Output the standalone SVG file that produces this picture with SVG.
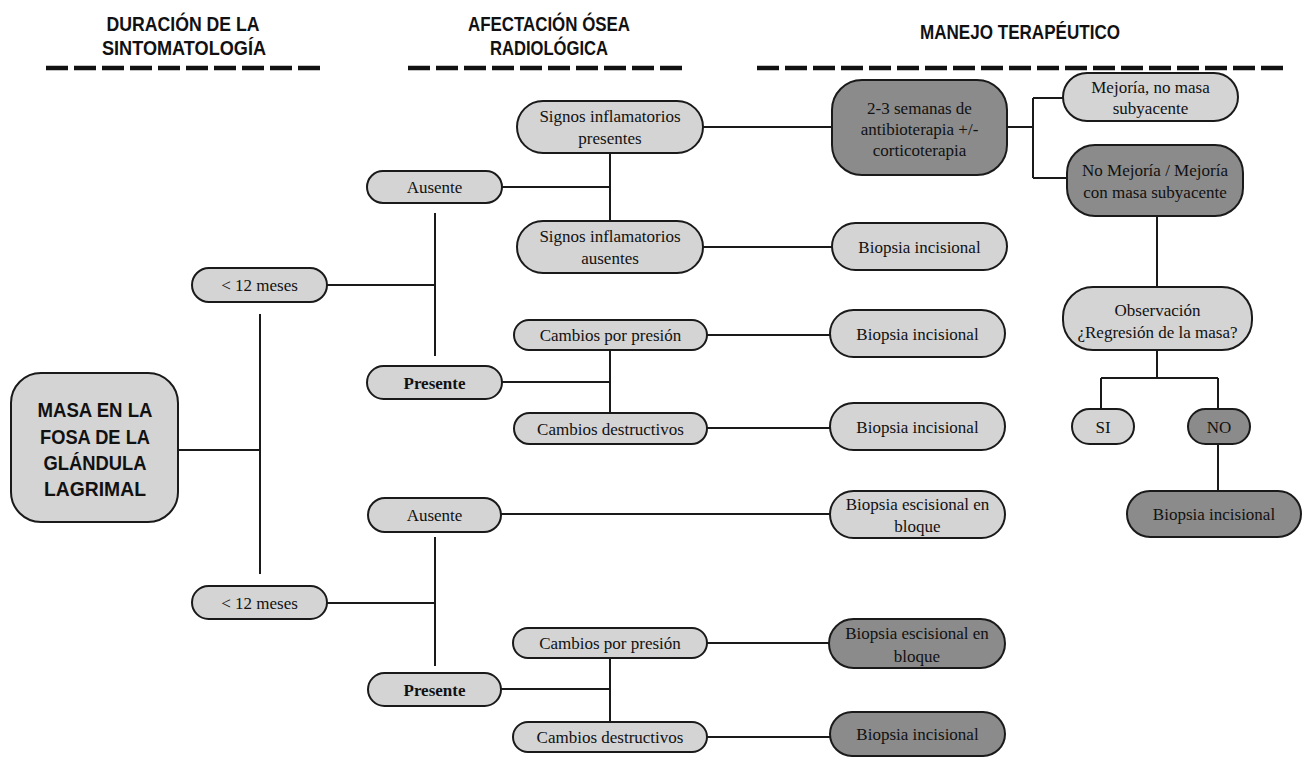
<svg xmlns="http://www.w3.org/2000/svg" width="1303" height="757" viewBox="0 0 1303 757">
<style>
.hd{font-family:"Liberation Sans",Arial,sans-serif;font-weight:bold;font-size:20px;fill:#111;text-anchor:middle}
.dash{stroke:#111;stroke-width:4.5;stroke-dasharray:22 6;fill:none}
.lt{fill:#d4d4d4;stroke:#1a1a1a;stroke-width:2}
.dk{fill:#8b8b8b;stroke:#1a1a1a;stroke-width:2}
.t{font-family:"Liberation Serif","Times New Roman",serif;font-size:17px;fill:#111;text-anchor:middle}
.b{font-weight:bold}
.rt{font-family:"Liberation Sans",Arial,sans-serif;font-weight:bold;font-size:21px;fill:#111;text-anchor:middle}
#connectors path{stroke:#1a1a1a;stroke-width:2;fill:none}
</style>
<rect width="1303" height="757" fill="#fff"/>
<g id="headers">
<text class="hd" x="183" y="31" textLength="153" lengthAdjust="spacingAndGlyphs">DURACIÓN DE LA</text>
<text class="hd" x="184" y="55" textLength="164" lengthAdjust="spacingAndGlyphs">SINTOMATOLOGÍA</text>
<text class="hd" x="549" y="31" textLength="162" lengthAdjust="spacingAndGlyphs">AFECTACIÓN ÓSEA</text>
<text class="hd" x="549" y="55" textLength="118" lengthAdjust="spacingAndGlyphs">RADIOLÓGICA</text>
<text class="hd" x="1020" y="39" textLength="200" lengthAdjust="spacingAndGlyphs">MANEJO TERAPÉUTICO</text>
<path class="dash" d="M46 68H320M408 68H682M757 68H1283"/>
</g>
<g id="connectors">
<path d="M178 450H260M260 314V574"/>
<path d="M327 285H435M435 213V356"/>
<path d="M502 187H610M610 153V221"/>
<path d="M703 127H832M703 247H832"/>
<path d="M502 382H610M610 350V413"/>
<path d="M707 335H830M707 428H830"/>
<path d="M327 603H435M435 537V666"/>
<path d="M501 514H830"/>
<path d="M501 689H610M610 658V722"/>
<path d="M707 643H830M707 737H830"/>
<path d="M1007 127H1033M1033 98V178M1033 98H1063M1033 178H1067"/>
<path d="M1157 216V287"/>
<path d="M1157 350V378M1101 378H1218M1101 378V409M1218 378V409"/>
<path d="M1218 444V491"/>
</g>
<g id="root"><rect class="lt" x="11" y="373" width="167" height="149" rx="30"/>
<text class="rt" x="95" y="417" textLength="115" lengthAdjust="spacingAndGlyphs">MASA EN LA</text><text class="rt" x="95" y="444" textLength="110" lengthAdjust="spacingAndGlyphs">FOSA DE LA</text><text class="rt" x="95" y="470" textLength="103" lengthAdjust="spacingAndGlyphs">GLÁNDULA</text><text class="rt" x="95" y="496" textLength="102" lengthAdjust="spacingAndGlyphs">LAGRIMAL</text></g>
<g id="lt12a"><rect class="lt" x="192" y="268" width="135" height="34" rx="17"/><text class="t" x="259.5" y="291">&lt; 12 meses</text></g>
<g id="lt12b"><rect class="lt" x="192" y="586" width="135" height="33" rx="16.5"/><text class="t" x="259.5" y="608.5">&lt; 12 meses</text></g>
<g id="ausA"><rect class="lt" x="367" y="171" width="135" height="32" rx="16"/><text class="t" x="434.5" y="193">Ausente</text></g>
<g id="presA"><rect class="lt" x="367" y="366" width="135" height="33" rx="16.5"/><text class="t b" x="434.5" y="388.5">Presente</text></g>
<g id="ausB"><rect class="lt" x="368" y="498" width="133" height="34" rx="17"/><text class="t" x="434.5" y="521">Ausente</text></g>
<g id="presB"><rect class="lt" x="368" y="673" width="133" height="33" rx="16.5"/><text class="t b" x="434.5" y="695.5">Presente</text></g>
<g id="sigP"><rect class="lt" x="517" y="101" width="186" height="52" rx="26"/><text class="t" x="610" y="122">Signos inflamatorios</text><text class="t" x="610" y="144">presentes</text></g>
<g id="sigA"><rect class="lt" x="517" y="221" width="186" height="52" rx="26"/><text class="t" x="610" y="242">Signos inflamatorios</text><text class="t" x="610" y="264">ausentes</text></g>
<g id="cpA"><rect class="lt" x="514" y="320" width="193" height="30" rx="15"/><text class="t" x="610.5" y="341">Cambios por presión</text></g>
<g id="cdA"><rect class="lt" x="514" y="413" width="193" height="31" rx="15.5"/><text class="t" x="610.5" y="434.5">Cambios destructivos</text></g>
<g id="cpB"><rect class="lt" x="513" y="628" width="194" height="30" rx="15"/><text class="t" x="610" y="649">Cambios por presión</text></g>
<g id="cdB"><rect class="lt" x="513" y="722" width="194" height="30" rx="15"/><text class="t" x="610" y="743">Cambios destructivos</text></g>
<g id="anti"><rect class="dk" x="832" y="80" width="175" height="95" rx="30"/><text class="t" x="919.5" y="114">2-3 semanas de</text><text class="t" x="919.5" y="135">antibioterapia +/-</text><text class="t" x="919.5" y="156">corticoterapia</text></g>
<g id="bi1"><rect class="lt" x="832" y="223" width="175" height="47" rx="23.5"/><text class="t" x="919.5" y="252.5">Biopsia incisional</text></g>
<g id="bi2"><rect class="lt" x="830" y="310" width="175" height="47" rx="23.5"/><text class="t" x="917.5" y="339.5">Biopsia incisional</text></g>
<g id="bi3"><rect class="lt" x="830" y="403" width="175" height="47" rx="23.5"/><text class="t" x="917.5" y="432.5">Biopsia incisional</text></g>
<g id="be1"><rect class="lt" x="830" y="491" width="175" height="47" rx="23.5"/><text class="t" x="917.5" y="510">Biopsia escisional en</text><text class="t" x="917.5" y="532">bloque</text></g>
<g id="be2"><rect class="dk" x="829" y="619" width="176" height="49" rx="24.5"/><text class="t" x="917" y="639">Biopsia escisional en</text><text class="t" x="917" y="662">bloque</text></g>
<g id="bi4"><rect class="dk" x="830" y="712" width="175" height="44" rx="22"/><text class="t" x="917.5" y="740">Biopsia incisional</text></g>
<g id="mej"><rect class="lt" x="1063" y="73" width="175" height="48" rx="24"/><text class="t" x="1150.5" y="93">Mejoría, no masa</text><text class="t" x="1150.5" y="114">subyacente</text></g>
<g id="nomej"><rect class="dk" x="1067" y="145" width="176" height="71" rx="28"/><text class="t" x="1155" y="176">No Mejoría / Mejoría</text><text class="t" x="1155" y="198">con masa subyacente</text></g>
<g id="obs"><rect class="lt" x="1063" y="287" width="189" height="63" rx="30"/><text class="t" x="1157.5" y="316">Observación</text><text class="t" x="1157.5" y="338">¿Regresión de la masa?</text></g>
<g id="si"><rect class="lt" x="1072" y="409" width="62" height="35" rx="17.5"/><text class="t" x="1103" y="432.5">SI</text></g>
<g id="no"><rect class="dk" x="1188" y="409" width="62" height="35" rx="17.5"/><text class="t" x="1219" y="432.5">NO</text></g>
<g id="bi5"><rect class="dk" x="1127" y="491" width="174" height="46" rx="23"/><text class="t" x="1214" y="520">Biopsia incisional</text></g>
</svg>
